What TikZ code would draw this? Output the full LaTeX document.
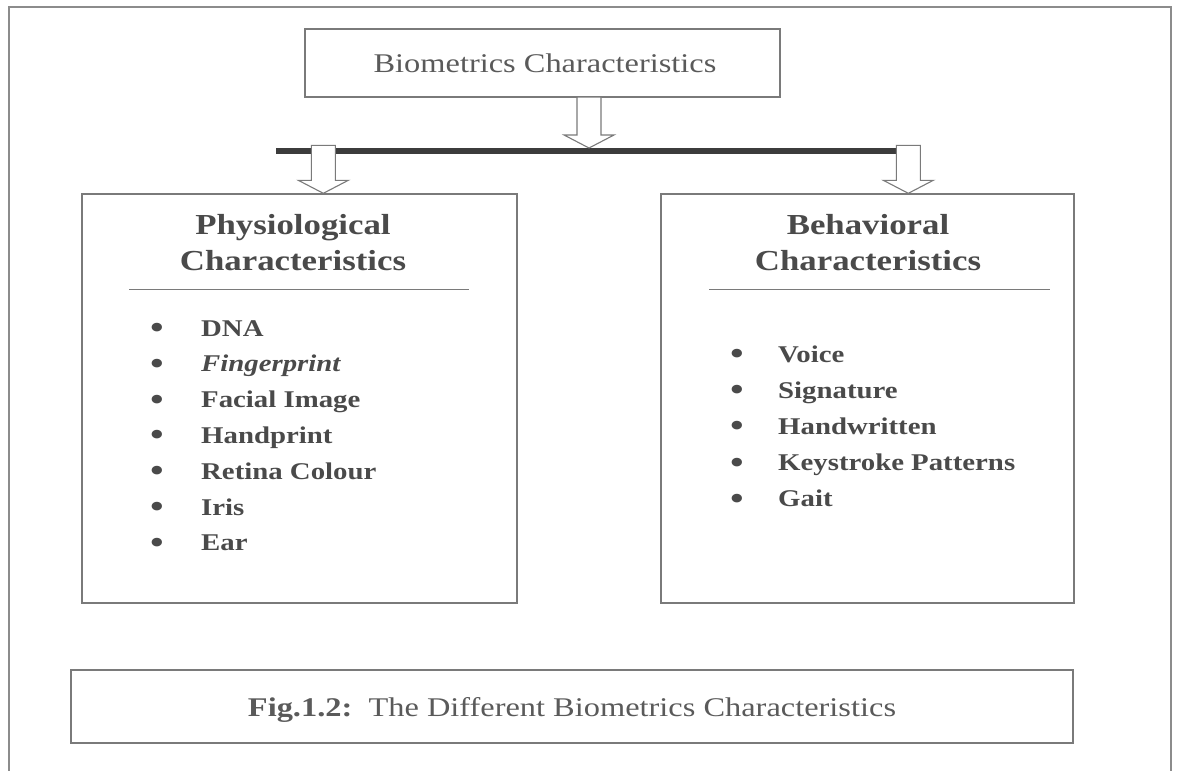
\documentclass[tikz,border=0pt]{standalone}
\usepackage{fontspec}
\setmainfont{Liberation Serif}[FakeStretch=1.2]
\usetikzlibrary{calc}
\definecolor{inkgrey}{HTML}{4A4A4A}
\definecolor{txtgrey}{HTML}{5A5A5A}
\definecolor{linegrey}{HTML}{7A7A7A}
\definecolor{framegrey}{HTML}{8C8C8C}
\definecolor{bargrey}{HTML}{3C3C3C}
\newcommand{\DownBlock}[2]{%
  \draw[blockarrow] ($(#1)+(-12,-#2)$) -- ($(#1)+(-12,-13)$) -- ($(#1)+(-25,-13)$)
    -- (#1) -- ($(#1)+(25,-13)$) -- ($(#1)+(12,-13)$) -- ($(#1)+(12,-#2)$) -- cycle;}
\begin{document}
\begin{tikzpicture}[x=1pt,y=-1pt,
  box/.style={draw=linegrey, line width=1.4pt, fill=white, inner sep=0pt},
  frame/.style={draw=framegrey, line width=2pt},
  bar/.style={draw=bargrey, line width=6pt},
  blockarrow/.style={draw=linegrey, line width=1.1pt, fill=white, line join=miter},
  rulel/.style={draw=linegrey, line width=1.2pt},
  headtxt/.style={font=\fontsize{29}{34}\selectfont\bfseries, text=inkgrey, anchor=base, inner sep=0pt},
  itemtxt/.style={font=\fontsize{24}{28}\selectfont\bfseries, text=inkgrey, anchor=base west, inner sep=0pt},
  bul/.style={font=\fontsize{36}{36}\selectfont, text=inkgrey, anchor=base, inner sep=0pt, text height=14pt, text depth=0pt},
  plaintxt/.style={font=\fontsize{27}{32}\selectfont, text=txtgrey, anchor=base, inner sep=0pt}]
\useasboundingbox (0,0) rectangle (1178,771);
\fill[white] (0,0) rectangle (1178,771);

% outer frame, open at the bottom
\draw[frame] (9,771) -- (9,7) -- (1171,7) -- (1171,771);

% boxes
\node[box, minimum width=475, minimum height=68] (top) at (542.5,63) {};
\node[box, minimum width=435, minimum height=409] (lbox) at (299.5,398.5) {};
\node[box, minimum width=413, minimum height=409] (rbox) at (867.5,398.5) {};
\node[box, minimum width=1002, minimum height=73] (cap) at (572,706.5) {};

% title and caption texts
\node[plaintxt] (toptxt) at (545,72) {Biometrics Characteristics};
\node[plaintxt] (captxt) at (572,716) {\textbf{Fig.1.2:}\ \ The Different Biometrics Characteristics};

% distribution bar and block arrows
\coordinate (barL) at (276,151);
\coordinate (barR) at (897,151);
\draw[bar] (barL) -- (barR);
\coordinate (tipT) at (589,148);
\coordinate (tipL) at ($(lbox.north west)+(242,0)$);
\coordinate (tipR) at ($(rbox.north west)+(248,0)$);
\DownBlock{tipT}{51}
\DownBlock{tipL}{48}
\DownBlock{tipR}{48}

% physiological column
\node[headtxt] (lh1) at (293,234) {Physiological};
\node[headtxt] (lh2) at (293,270) {Characteristics};
\draw[rulel] ($(lbox.north west)+(48,96)$) coordinate (lr1) -- ($(lbox.north east)+(-49,96)$) coordinate (lr2);
\foreach \t [count=\i] in {DNA,{\itshape Fingerprint},Facial Image,Handprint,Retina Colour,Iris,Ear}{
  \node[bul] (lb\i) at (157,{339.5+35.8*(\i-1)}) {\textbullet};
  \node[itemtxt] (li\i) at (201,{336+35.8*(\i-1)}) {\t};
}

% behavioral column
\node[headtxt] (rh1) at (868,234) {Behavioral};
\node[headtxt] (rh2) at (868,270) {Characteristics};
\draw[rulel] ($(rbox.north west)+(49,96)$) coordinate (rr1) -- ($(rbox.north east)+(-25,96)$) coordinate (rr2);
\foreach \t [count=\i] in {Voice,Signature,Handwritten,Keystroke Patterns,Gait}{
  \node[bul] (rb\i) at (737,{365.5+36.2*(\i-1)}) {\textbullet};
  \node[itemtxt] (ri\i) at (778,{362+36.2*(\i-1)}) {\t};
}
\end{tikzpicture}
\end{document}
